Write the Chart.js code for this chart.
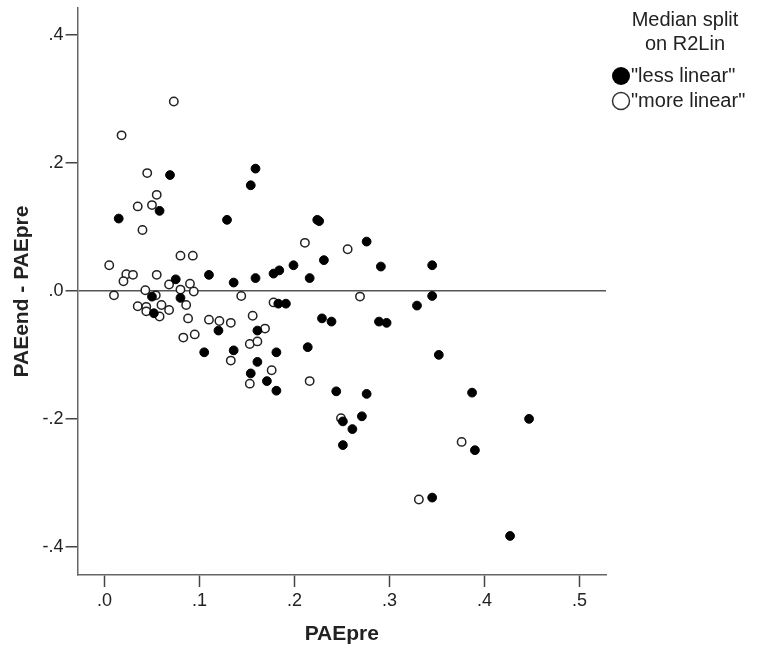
<!DOCTYPE html>
<html>
<head>
<meta charset="utf-8">
<script src="https://cdn.jsdelivr.net/npm/chart.js@4"></script>
<style>
  body { margin: 0; background: #fff; }
  #chart { display: block; }
</style>
</head>
<body>
<canvas id="chart" width="760" height="654"></canvas>
<script>
// "less linear" group (filled)
var lessX = [.069,.154,.159,.015,.058,.129,.224,.226,.276,.291,.231,.199,.178,.184,.216,.159,.136,.110,.075,.050,.080,.052,.183,.191,.229,.239,.289,.297,.120,.161,.105,.136,.181,.214,.161,.154,.171,.181,.244,.276,.271,.345,.345,.329,.352,.387,.251,.261,.251,.447,.390,.345,.427];
var lessY = [.181,.165,.191,.113,.125,.111,.111,.109,.077,.038,.048,.040,.027,.032,.020,.020,.013,.025,.018,-.009,-.011,-.035,-.020,-.020,-.043,-.048,-.048,-.050,-.062,-.062,-.096,-.093,-.096,-.088,-.111,-.129,-.141,-.156,-.157,-.161,-.196,.040,-.008,-.023,-.100,-.159,-.204,-.216,-.241,-.200,-.249,-.323,-.383];

// "more linear" group (open)
var moreX = [.073,.018,.045,.055,.035,.050,.040,.080,.093,.211,.256,.005,.023,.030,.020,.055,.068,.080,.090,.094,.043,.010,.054,.144,.269,.035,.044,.044,.060,.058,.068,.086,.088,.110,.121,.133,.156,.178,.169,.083,.095,.153,.161,.133,.176,.153,.216,.249,.376,.331];
var moreY = [.296,.243,.184,.150,.132,.134,.095,.055,.055,.075,.065,.040,.026,.025,.015,.025,.010,.002,.011,-.001,.001,-.007,-.007,-.008,-.009,-.024,-.025,-.032,-.022,-.040,-.030,-.022,-.043,-.045,-.047,-.050,-.039,-.018,-.059,-.073,-.068,-.083,-.079,-.109,-.124,-.145,-.141,-.199,-.236,-.326];

var xTicks = [0, .1, .2, .3, .4, .5];
var xTickLabels = ['.0', '.1', '.2', '.3', '.4', '.5'];
var yTicks = [-.4, -.2, 0, .2, .4];
var yTickLabels = ['-.4', '-.2', '.0', '.2', '.4'];

var legendTitle = ['Median split', 'on R2Lin'];
var groupNames = ['"less linear"', '"more linear"'];

function toPoints(xs, ys) {
  return xs.map(function (x, i) { return {x: x, y: ys[i]}; });
}

var FONT = '"Liberation Sans", Arial, sans-serif';

// legend drawn at the right, like the original
var sideLegend = {
  id: 'sideLegend',
  afterDraw: function (chart) {
    var ctx = chart.ctx;
    ctx.save();
    ctx.fillStyle = '#222';
    ctx.font = '20px ' + FONT;
    ctx.textAlign = 'center';
    ctx.textBaseline = 'middle';
    ctx.fillText(legendTitle[0], 685, 20);
    ctx.fillText(legendTitle[1], 685, 44);

    ctx.textAlign = 'left';
    // filled marker
    ctx.beginPath();
    ctx.arc(621, 76, 9, 0, Math.PI * 2);
    ctx.fillStyle = '#000';
    ctx.fill();
    // open marker
    ctx.beginPath();
    ctx.arc(621, 101, 8.5, 0, Math.PI * 2);
    ctx.fillStyle = '#fff';
    ctx.fill();
    ctx.lineWidth = 1.5;
    ctx.strokeStyle = '#333';
    ctx.stroke();

    ctx.fillStyle = '#222';
    ctx.fillText(groupNames[0], 631, 76);
    ctx.fillText(groupNames[1], 631, 101);
    ctx.restore();
  }
};

function noPad(s) {
  s.paddingTop = 0; s.paddingBottom = 0; s.paddingLeft = 0; s.paddingRight = 0;
}

var ctx = document.getElementById('chart').getContext('2d');
var chart = new Chart(ctx, {
  type: 'scatter',
  data: {
    datasets: [{
      label: groupNames[0],
      data: toPoints(lessX, lessY),
      backgroundColor: '#000',
      borderColor: '#000',
      borderWidth: 1,
      pointRadius: 4.4
    }, {
      label: groupNames[1],
      data: toPoints(moreX, moreY),
      backgroundColor: '#fff',
      borderColor: '#222',
      borderWidth: 1.5,
      pointRadius: 4.2
    }]
  },
  options: {
    responsive: false,
    animation: false,
    devicePixelRatio: 1,
    layout: { padding: { left: 0, top: 8, right: 154, bottom: 0 } },
    plugins: {
      legend: { display: false },
      tooltip: { enabled: false }
    },
    scales: {
      x: {
        type: 'linear',
        min: -0.0283,
        max: 0.528,
        afterFit: function (s) { s.height = 79; noPad(s); },
        afterBuildTicks: function (s) { s.ticks = xTicks.map(function (v) { return {value: v}; }); },
        border: { display: true, color: '#666', width: 1.5 },
        grid: { drawOnChartArea: false, drawTicks: true, tickLength: 12, tickColor: '#444', tickWidth: 1.5 },
        ticks: {
          padding: 3,
          color: '#222',
          font: { family: FONT, size: 18 },
          maxRotation: 0,
          callback: function (v, i) { return xTickLabels[i]; }
        },
        title: {
          display: true,
          text: 'PAEpre',
          color: '#222',
          font: { family: FONT, size: 21, weight: 'bold' },
          padding: { top: 0, bottom: 7 }
        }
      },
      y: {
        type: 'linear',
        min: -0.444,
        max: 0.442,
        afterFit: function (s) { s.width = 77.6; noPad(s); },
        afterBuildTicks: function (s) { s.ticks = yTicks.map(function (v) { return {value: v}; }); },
        border: { display: true, color: '#666', width: 1.5 },
        grid: {
          drawOnChartArea: true,
          drawTicks: true,
          tickLength: 12,
          tickColor: '#444',
          tickWidth: 1.5,
          lineWidth: 1.5,
          color: function (c) { return c.tick && c.tick.value === 0 ? '#555' : 'rgba(0,0,0,0)'; }
        },
        ticks: {
          padding: 2,
          color: '#222',
          font: { family: FONT, size: 18 },
          callback: function (v, i) { return yTickLabels[i]; }
        },
        title: {
          display: true,
          text: 'PAEend - PAEpre',
          color: '#222',
          font: { family: FONT, size: 21, weight: 'bold' },
          padding: { top: 10, bottom: 0 }
        }
      }
    }
  },
  plugins: [sideLegend]
});
</script>
</body>
</html>
